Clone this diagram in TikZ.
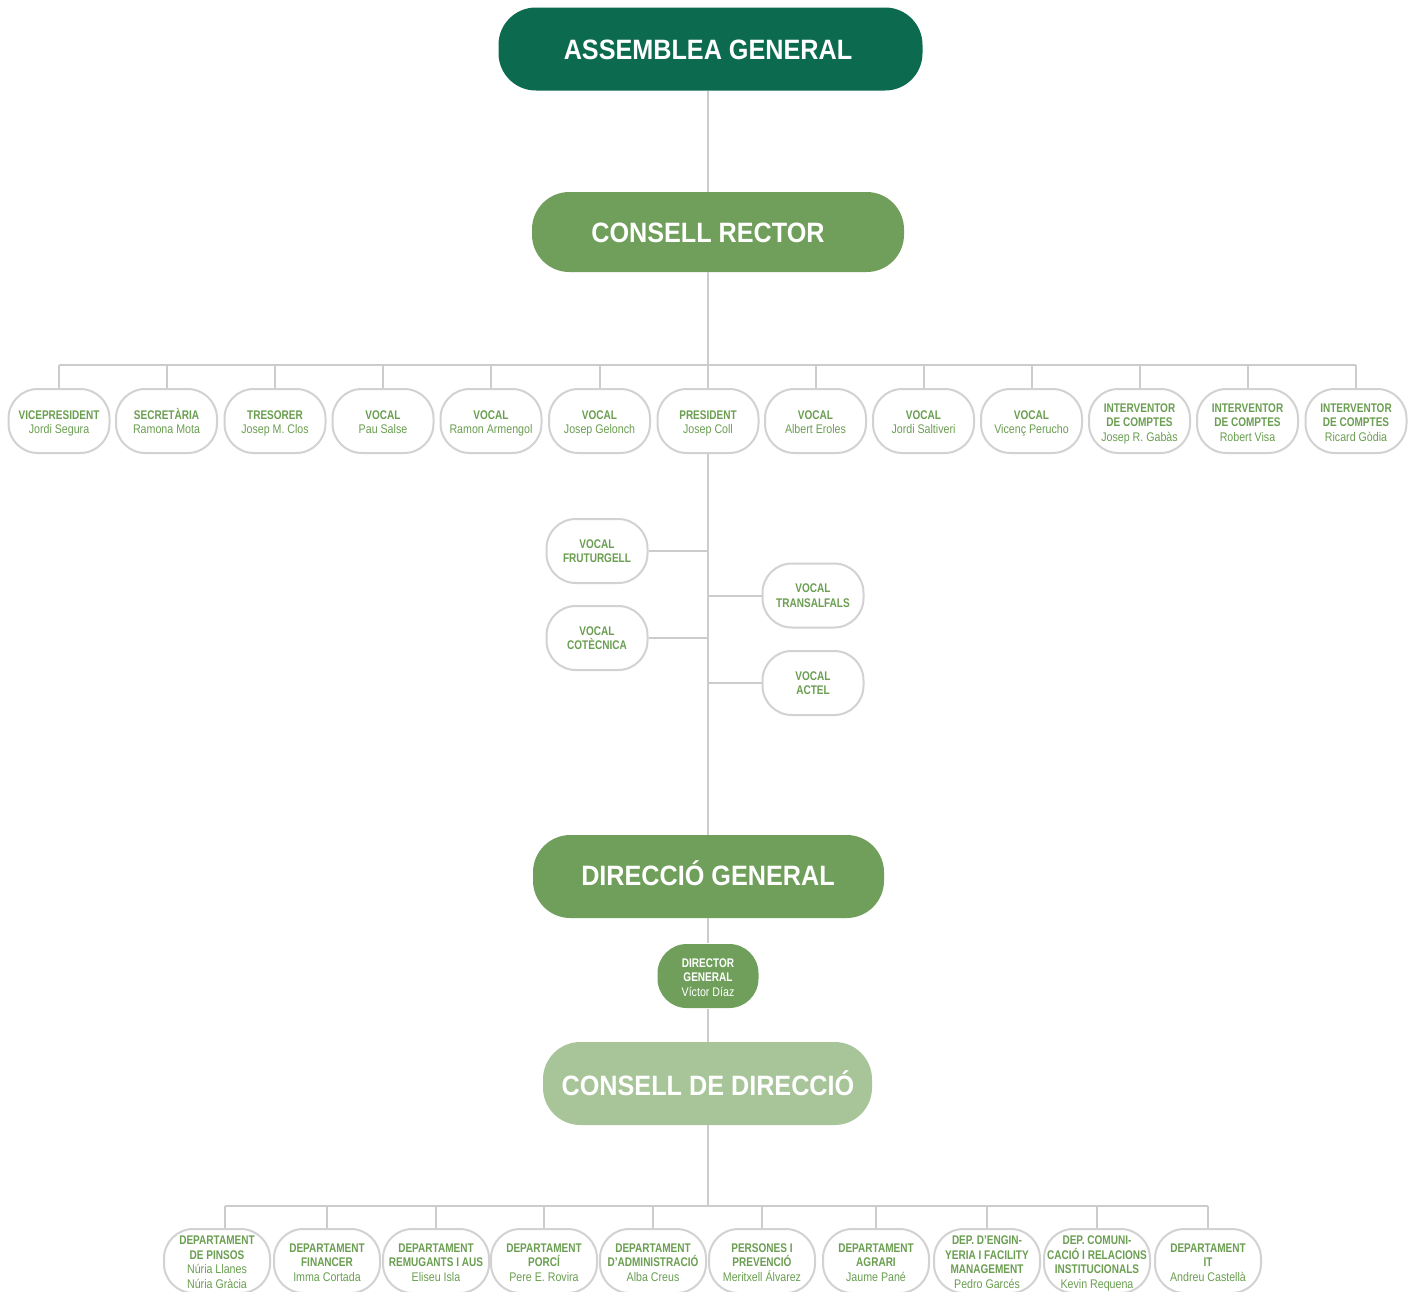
\documentclass[tikz,border=0pt]{standalone}
\usepackage{fontspec}
\newfontfamily\bigfont[FakeStretch=0.9]{Liberation Sans}
\newfontfamily\smallbf[FakeStretch=0.8]{Liberation Sans}
\newfontfamily\smallrm[FakeStretch=0.85]{Liberation Sans}
\definecolor{agreen}{HTML}{0C6A4E}
\definecolor{mgreen}{HTML}{6F9F5A}
\definecolor{lgreen}{HTML}{A8C59A}
\definecolor{tgreen}{HTML}{6A9E50}
\definecolor{linegray}{HTML}{CCCCCC}
\definecolor{boxgray}{HTML}{D2D2D2}
\newcommand\fhead[1]{{\smallbf\bfseries\vphantom{À}#1}}
\newcommand\bhead[1]{{\smallbf\bfseries #1}}
\newcommand\lname[1]{\raisebox{0pt}[\height][0pt]{#1}}
\begin{document}
\begin{tikzpicture}[x=0.75pt,y=-0.75pt,
  conn/.style={draw=linegray, line width=1.5pt},
  pill/.style={draw=boxgray, line width=1.5pt, fill=white, rounded corners=22pt,
    minimum width=75.75pt, minimum height=48pt, inner sep=0pt, align=center,
    text=tgreen, font=\smallrm\fontsize{9.4pt}{10.9pt}\selectfont},
  dpill/.style={pill, minimum width=79.5pt},
  big/.style={rounded corners=28pt, inner sep=0pt},
  bigtext/.style={text=white, font=\bigfont\bfseries\fontsize{21pt}{25pt}\selectfont,
    inner sep=0pt, anchor=base}]
\fill[white] (0,0) rectangle (1418,1292);
\useasboundingbox (0,0) rectangle (1418,1292);
\coordinate (spine) at (708,0);
\coordinate (bus) at (0,365);
\coordinate (bus2) at (0,1206);

% big boxes
\node[big, fill=agreen, minimum width=318pt, minimum height=62.25pt] (ag) at (710.5,49) {};
\node[bigtext] (agt) at (708,59) {ASSEMBLEA GENERAL};
\node[big, fill=mgreen, minimum width=279pt, minimum height=60pt] (cr) at (718,232) {};
\node[bigtext] (crt) at (708,242) {CONSELL RECTOR};
\node[big, fill=mgreen, minimum width=263.25pt, minimum height=62.25pt] (dg) at (708.5,876.5) {};
\node[bigtext] (dgt) at (708,885) {DIRECCIÓ GENERAL};
\node[big, fill=lgreen, minimum width=246.75pt, minimum height=62.25pt] (cd) at (707.5,1083.5) {};
\node[bigtext] (cdt) at (708,1095) {CONSELL DE DIRECCIÓ};

% top row
\node[pill] (vp) at (59,421) {\fhead{VICEPRESIDENT}\\\lname{Jordi Segura}};
\node[pill] (sec) at (166.5,421) {\fhead{SECRETÀRIA}\\\lname{Ramona Mota}};
\node[pill] (tre) at (275,421) {\fhead{TRESORER}\\\lname{Josep M. Clos}};
\node[pill] (v1) at (383,421) {\fhead{VOCAL}\\\lname{Pau Salse}};
\node[pill] (v2) at (491,421) {\fhead{VOCAL}\\\lname{Ramon Armengol}};
\node[pill] (v3) at (599.5,421) {\fhead{VOCAL}\\\lname{Josep Gelonch}};
\node[pill] (pres) at (708,421) {\fhead{PRESIDENT}\\\lname{Josep Coll}};
\node[pill] (v4) at (815.5,421) {\fhead{VOCAL}\\\lname{Albert Eroles}};
\node[pill] (v5) at (923.5,421) {\fhead{VOCAL}\\\lname{Jordi Saltiveri}};
\node[pill] (v6) at (1031.5,421) {\fhead{VOCAL}\\\lname{Vicenç Perucho}};
\node[pill] (ic1) at (1139.5,421) {\fhead{INTERVENTOR}\\\bhead{DE COMPTES}\\\lname{Josep R. Gabàs}};
\node[pill] (ic2) at (1247.5,421) {\fhead{INTERVENTOR}\\\bhead{DE COMPTES}\\\lname{Robert Visa}};
\node[pill] (ic3) at (1356,421) {\fhead{INTERVENTOR}\\\bhead{DE COMPTES}\\\lname{Ricard Gòdia}};

% middle vocals
\node[pill] (fru) at (597,551) {\bhead{VOCAL}\\\bhead{FRUTURGELL}};
\node[pill] (tra) at (813,595.5) {\bhead{VOCAL}\\\bhead{TRANSALFALS}};
\node[pill] (cot) at (597,638) {\bhead{VOCAL}\\\bhead{COTÈCNICA}};
\node[pill] (act) at (813,683) {\bhead{VOCAL}\\\bhead{ACTEL}};

% director
\node[pill, draw=none, fill=mgreen, text=white] (dir) at (708,976) {\fhead{DIRECTOR}\\\bhead{GENERAL}\\\lname{Víctor Díaz}};

% bottom row
\node[dpill] (d1) at (217,1261) {\fhead{DEPARTAMENT}\\\bhead{DE PINSOS}\\Núria Llanes\\\lname{Núria Gràcia}};
\node[dpill] (d2) at (327,1261) {\fhead{DEPARTAMENT}\\\bhead{FINANCER}\\\lname{Imma Cortada}};
\node[dpill] (d3) at (436,1261) {\fhead{DEPARTAMENT}\\\bhead{REMUGANTS I AUS}\\\lname{Eliseu Isla}};
\node[dpill] (d4) at (544,1261) {\fhead{DEPARTAMENT}\\\bhead{PORCÍ}\\\lname{Pere E. Rovira}};
\node[dpill] (d5) at (653,1261) {\fhead{DEPARTAMENT}\\\bhead{D’ADMINISTRACIÓ}\\\lname{Alba Creus}};
\node[dpill] (d6) at (762,1261) {\fhead{PERSONES I}\\\bhead{PREVENCIÓ}\\\lname{Meritxell Álvarez}};
\node[dpill] (d7) at (876,1261) {\fhead{DEPARTAMENT}\\\bhead{AGRARI}\\\lname{Jaume Pané}};
\node[dpill] (d8) at (987,1261) {\fhead{DEP. D’ENGIN-}\\\bhead{YERIA I FACILITY}\\\bhead{MANAGEMENT}\\\lname{Pedro Garcés}};
\node[dpill] (d9) at (1097,1261) {\fhead{DEP. COMUNI-}\\\bhead{CACIÓ I RELACIONS}\\\bhead{INSTITUCIONALS}\\\lname{Kevin Requena}};
\node[dpill] (d10) at (1208,1261) {\fhead{DEPARTAMENT}\\\bhead{IT}\\\lname{Andreu Castellà}};

% connectors
\draw[conn] (ag.south -| spine) -- (cr.north -| spine);
\draw[conn] (cr.south -| spine) -- (pres.north);
\draw[conn] (vp.north |- bus) -- (ic3.north |- bus);
\foreach \n in {vp,sec,tre,v1,v2,v3,v4,v5,v6,ic1,ic2,ic3}
  \draw[conn] (\n.north) -- (\n.north |- bus);
\draw[conn] (pres.south) -- (dg.north -| spine);
\draw[conn] (fru.east) -- (fru.east -| spine);
\draw[conn] (cot.east) -- (cot.east -| spine);
\draw[conn] (tra.west) -- (tra.west -| spine);
\draw[conn] (act.west) -- (act.west -| spine);
\draw[conn] (dg.south -| spine) -- (dir.north);
\draw[conn] (dir.south) -- (cd.north -| spine);
\draw[conn] (cd.south -| spine) -- (spine |- bus2);
\draw[conn] ([xshift=6pt]d1.north |- bus2) -- (d10.north |- bus2);
\draw[conn] ([xshift=6pt]d1.north) -- ([xshift=6pt]d1.north |- bus2);
\foreach \n in {d2,d3,d4,d5,d6,d7,d8,d9,d10}
  \draw[conn] (\n.north) -- (\n.north |- bus2);
\end{tikzpicture}
\end{document}
